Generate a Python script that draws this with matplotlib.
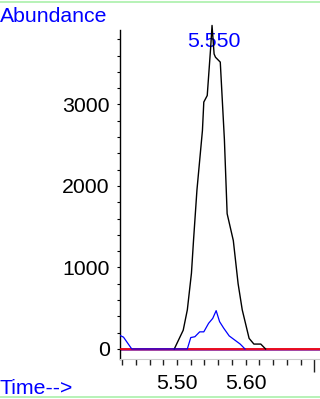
import matplotlib
matplotlib.use('Agg')
import matplotlib.pyplot as plt
from matplotlib.lines import Line2D
from matplotlib.ticker import MultipleLocator

plt.rcParams['font.family'] = ['Liberation Sans', 'DejaVu Sans']

# ion traces (time in min, abundance)
black_time = [5.496, 5.509, 5.515, 5.521, 5.524, 5.529, 5.537, 5.539, 5.544, 5.549, 5.551,
              5.554, 5.556, 5.563, 5.569, 5.573, 5.582, 5.589, 5.595, 5.605, 5.612, 5.622, 5.629]
black_abund = [0, 230, 480, 930, 1330, 1950, 2680, 3030, 3110, 3700, 3970,
               3620, 3580, 3520, 2570, 1660, 1330, 800, 480, 130, 60, 60, 0]

blue_time = [5.417, 5.422, 5.434, 5.515, 5.520, 5.526, 5.533, 5.539, 5.546, 5.552, 5.557,
             5.562, 5.568, 5.576, 5.584, 5.592, 5.599]
blue_abund = [165, 145, 0, 0, 140, 150, 210, 210, 315, 375, 470,
              335, 255, 160, 110, 60, 0]

baseline = 0
peak_time = 5.550
peak_label = '5.550'
x_ticks = [5.50, 5.60, 5.70]
x_labels = ['5.50', '5.60', '']
y_ticks = [0, 1000, 2000, 3000]

fs = 15.3

fig = plt.figure(figsize=(3.2, 3.99), dpi=100)
ax = fig.add_axes([0.375, 0.1003, 0.625, 0.8245])

ax.axhline(baseline, color='#993399', lw=2.0, zorder=2)
ax.axhline(baseline, color='red', lw=1.1, zorder=3)
ax.plot(black_time, black_abund, color='black', lw=1.0, zorder=4, clip_on=False)
ax.plot(blue_time, blue_abund, color='blue', lw=0.9, zorder=5)

ax.set_xlim(5.4169, 5.7083)
ax.set_ylim(-123, 3914)

ax.annotate(peak_label, xy=(peak_time, 3767), xytext=(2, 0), textcoords='offset points',
            ha='center', va='center', color='blue', fontsize=fs)

for s in ['top', 'right']:
    ax.spines[s].set_visible(False)
ax.spines['bottom'].set_color('#cccccc')
ax.spines['bottom'].set_linewidth(0.8)
ax.spines['left'].set_linewidth(1.0)

ax.set_xticks(x_ticks)
ax.set_xticklabels(x_labels)
ax.xaxis.set_minor_locator(MultipleLocator(0.02))
ax.tick_params(axis='x', which='both', direction='out', length=4, width=1, color='#222222',
               labelsize=fs, pad=7)
ax.xaxis.get_major_ticks()[2].tick1line.set_markersize(9)

ax.set_yticks(y_ticks)
ax.yaxis.set_minor_locator(MultipleLocator(200))
ax.tick_params(axis='y', which='both', direction='out', length=2.5, width=0.8, labelsize=fs, pad=5)

fig.text(0.0, 0.9456, 'Abundance', color='blue', fontsize=fs, ha='left', va='baseline')
fig.text(0.0, 0.0125, 'Time-->', color='blue', fontsize=fs, ha='left', va='baseline')

# light green frame lines
fig.add_artist(Line2D([0, 1], [0.995, 0.995], transform=fig.transFigure, color='#aaf0aa', lw=1.2))
fig.add_artist(Line2D([0, 1], [0.005, 0.005], transform=fig.transFigure, color='#aaf0aa', lw=1.2))

fig.savefig('out.png', dpi=100)
